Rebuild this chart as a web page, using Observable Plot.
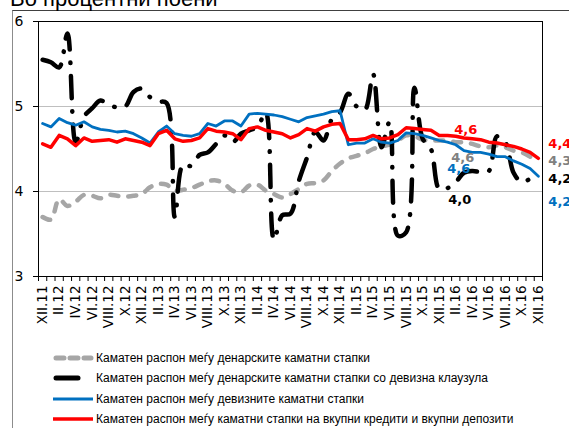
<!DOCTYPE html>
<html><head><meta charset="utf-8">
<script src="https://cdn.jsdelivr.net/npm/d3@7"></script>
<script src="https://cdn.jsdelivr.net/npm/@observablehq/plot@0.6"></script>
<style>
body{margin:0;background:#fff;width:569px;height:428px;overflow:hidden;position:relative;font-family:"Liberation Sans",Arial,sans-serif;}
#frame{position:absolute;left:12px;top:10px;width:600px;height:500px;border-left:1px solid #8c8c8c;border-top:1px solid #404040;}
#title{position:absolute;left:10px;top:-12px;font-size:22px;line-height:22px;white-space:nowrap;color:#000;}
#chart{position:absolute;left:0;top:0;}
.leg{position:absolute;left:53px;height:14px;font-size:12px;line-height:14px;white-space:nowrap;color:#000;}
.leg svg{position:absolute;left:0;top:2px;}
.leg span{position:absolute;left:43px;top:0;}
</style></head>
<body>
<div id="frame"></div>
<div id="title">Во процентни поени</div>
<div id="chart"></div>
<div id="legend"></div>
<script>
const tickLabels = ["XII.11","II.12","IV.12","VI.12","VIII.12","X.12","XII.12","II.13","IV.13","VI.13","VIII.13","X.13","XII.13","II.14","IV.14","VI.14","VIII.14","X.14","XII.14","II.15","IV.15","VI.15","VIII.15","X.15","XII.15","II.16","IV.16","VI.16","VIII.16","X.16","XII.16"];

// Каматен распон меѓу денарските каматни стапки
const denar = [3.70,3.67,3.91,3.83,3.88,3.96,3.95,3.92,3.96,3.95,3.94,3.95,3.97,4.05,4.09,4.08,4.01,4.02,4.04,4.08,4.12,4.13,4.09,4.01,3.99,4.07,4.08,4.01,3.97,3.93,3.97,4.03,4.09,4.10,4.13,4.24,4.33,4.39,4.42,4.45,4.50,4.53,4.55,4.60,4.66,4.65,4.61,4.60,4.60,4.60,4.58,4.58,4.56,4.53,4.52,4.54,4.52,4.48,4.46,4.41,4.35];
// ... со девизна клаузула
const denarFx = [5.55,5.52,5.46,5.86,4.58,4.88,4.98,5.07,5.02,4.99,5.00,5.17,5.21,5.11,5.06,5.04,3.70,4.32,4.30,4.43,4.46,4.56,4.66,4.58,4.68,4.72,4.76,4.93,3.43,3.72,3.74,4.12,4.40,4.70,4.60,4.85,4.93,5.15,5.00,4.96,5.38,4.52,4.82,3.48,3.52,5.22,4.62,4.50,4.03,4.04,4.11,4.22,4.24,4.23,4.24,4.65,4.58,4.22,4.11,4.15,4.21];
// ... девизните каматни стапки
const fx = [4.80,4.76,4.86,4.81,4.78,4.82,4.76,4.73,4.72,4.70,4.71,4.68,4.63,4.57,4.70,4.77,4.68,4.66,4.65,4.68,4.80,4.77,4.83,4.83,4.77,4.91,4.92,4.91,4.90,4.88,4.85,4.82,4.87,4.89,4.91,4.94,4.95,4.55,4.57,4.57,4.62,4.58,4.57,4.60,4.69,4.68,4.66,4.63,4.60,4.58,4.55,4.48,4.46,4.46,4.44,4.41,4.41,4.36,4.32,4.27,4.18];
// ... вкупни кредити и вкупни депозити
const total = [4.56,4.52,4.66,4.62,4.54,4.63,4.59,4.60,4.61,4.58,4.62,4.60,4.58,4.54,4.68,4.72,4.62,4.59,4.60,4.63,4.74,4.71,4.70,4.68,4.61,4.74,4.76,4.72,4.70,4.68,4.63,4.67,4.74,4.71,4.76,4.79,4.80,4.61,4.61,4.62,4.66,4.62,4.63,4.67,4.75,4.74,4.73,4.72,4.66,4.66,4.65,4.63,4.62,4.61,4.58,4.57,4.55,4.53,4.50,4.46,4.39];

const seriesNames = [
  "Каматен распон меѓу денарските каматни стапки",
  "Каматен распон меѓу денарските каматни стапки со девизна клаузула",
  "Каматен распон меѓу девизните каматни стапки",
  "Каматен распон меѓу каматни стапки на вкупни кредити и вкупни депозити"
];
// data labels (month index, value shown)
const midLabelMonth = 50;
const midLabels = {total: 4.6, denar: 4.6, fx: 4.6, denarFx: 4.0};
const endLabels = {total: 4.4, denar: 4.3, denarFx: 4.2, fx: 4.2};

const C = {denar:"#a6a6a6", denarFx:"#000000", fx:"#0070c0", total:"#ff0000", denarLab:"#808080"};
const rows = denar.map((v,i)=>({i, denar:v, denarFx:denarFx[i], fx:fx[i], total:total[i]}));
const last = denar.length - 1;
const fmt = v => v.toFixed(1).replace(".", ",");
const boundaries = d3.range(denar.length + 1).map(k => k - 0.5);
const labelTicks = d3.range(0, denar.length, 2);

function lab(key, month, value, color, dx, dy, anchor){
  return Plot.text([{i:month, v:value}], {x:"i", y:"v", text:d=>fmt(d.v), fill:color, dx, dy,
    textAnchor:anchor, fontWeight:"bold", fontSize:13, fontFamily:"DejaVu Sans"});
}

const chart = Plot.plot({
  width:569, height:342,
  marginLeft:38, marginRight:27, marginTop:21, marginBottom:66,
  x:{domain:[-0.5, last + 0.5], label:null},
  y:{domain:[3,6], label:null},
  style:{fontFamily:"DejaVu Sans", background:"none", overflow:"visible", color:"#000"},
  marks:[
    Plot.gridY([4,5], {stroke:"#bfbfbf", strokeOpacity:1}),
    Plot.frame({stroke:"#000"}),
    Plot.axisY({ticks:[3,4,5,6], tickSize:5, tickPadding:10, fontSize:14, label:null, tickFormat:d=>String(d), fontFamily:"DejaVu Sans"}),
    Plot.axisX({ticks:boundaries, tickSize:5, tickFormat:()=>"", label:null}),
    Plot.axisX({ticks:labelTicks, tickSize:0, tickPadding:9, tickRotate:-90, fontSize:13.5, label:null,
      tickFormat:i=>tickLabels[i/2], fontFamily:"DejaVu Sans"}),
    Plot.line(rows, {x:"i", y:"denar", stroke:C.denar, strokeWidth:4.5, strokeDasharray:"8,10", strokeLinecap:"round", curve:"catmull-rom"}),
    Plot.line(rows, {x:"i", y:"denarFx", stroke:C.denarFx, strokeWidth:4.5, strokeDasharray:"22,13,0.5,13", strokeLinecap:"round", curve:"catmull-rom"}),
    Plot.line(rows, {x:"i", y:"fx", stroke:C.fx, strokeWidth:2.8, curve:"linear"}),
    Plot.line(rows, {x:"i", y:"total", stroke:C.total, strokeWidth:3.5, curve:"linear"}),
    lab("total", midLabelMonth, midLabels.total, C.total, 10, -11, "middle"),
    lab("denar", midLabelMonth, midLabels.denar, C.denarLab, 7, 17, "middle"),
    lab("fx", midLabelMonth, midLabels.fx, C.fx, 3, 28, "middle"),
    lab("denarFx", midLabelMonth, midLabels.denarFx, C.denarFx, 4, 8, "middle"),
    lab("total", last, endLabels.total, C.total, 10, -14, "start"),
    lab("denar", last, endLabels.denar, C.denarLab, 10, -5, "start"),
    lab("denarFx", last, endLabels.denarFx, C.denarFx, 10, 4, "start"),
    lab("fx", last, endLabels.fx, C.fx, 10, 27, "start")
  ]
});
document.getElementById("chart").appendChild(chart);

const legend = document.getElementById("legend");
const legendTops = [351, 371, 392, 412];
const swatches = [
  `<line x1="3" y1="5" x2="38" y2="5" stroke="${C.denar}" stroke-width="5" stroke-dasharray="8,6" stroke-linecap="round"/>`,
  `<line x1="3" y1="5" x2="25" y2="5" stroke="${C.denarFx}" stroke-width="5" stroke-linecap="round"/>`,
  `<line x1="0" y1="5" x2="40" y2="5" stroke="${C.fx}" stroke-width="3"/>`,
  `<line x1="0" y1="5" x2="40" y2="5" stroke="${C.total}" stroke-width="3.5"/>`
];
seriesNames.forEach((name, k) => {
  const d = document.createElement("div");
  d.className = "leg";
  d.style.top = legendTops[k] + "px";
  d.innerHTML = `<svg width="42" height="10">${swatches[k]}</svg><span>${name}</span>`;
  legend.appendChild(d);
});
</script>
</body></html>
